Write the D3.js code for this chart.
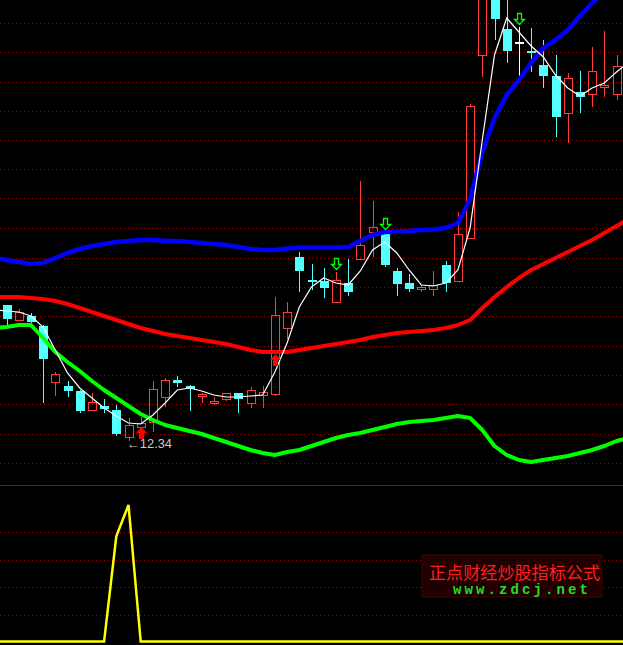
<!DOCTYPE html>
<html><head><meta charset="utf-8">
<script src="https://cdn.jsdelivr.net/npm/d3@7/dist/d3.min.js"></script>
<style>html,body{margin:0;padding:0;background:#000;overflow:hidden}svg{display:block}</style>
</head><body><svg id="c" width="623" height="645"></svg>
<script>
// ---- candle data (bar 0..50) ----
const opens = [15.06,14.76,14.84,14.64,13.52,13.44,13.34,12.96,13.04,12.96,
  12.42,12.62,12.72,13.22,13.56,13.44,13.24,13.10,13.18,13.30,
  13.10,13.26,13.28,14.60,16.02,15.56,15.54,15.12,15.50,15.98,
  16.52,16.50,15.74,15.50,15.38,15.38,15.86,15.54,16.40,20.06,
  21.36,20.58,20.32,20.14,19.86,19.64,18.90,19.32,19.28,19.42,19.28];
const closes = [14.78,14.92,14.72,13.99,13.68,13.34,12.94,13.12,12.98,12.48,
  12.66,12.70,13.38,13.56,13.50,13.38,13.28,13.14,13.30,13.18,
  13.36,13.32,14.86,14.92,15.74,15.55,15.40,15.56,15.32,16.26,
  16.62,15.86,15.48,15.38,15.42,15.46,15.50,16.48,19.04,21.36,
  20.78,20.14,20.32,20.10,19.64,18.82,19.60,19.22,19.74,19.46,19.84];
const highs = [15.06,14.98,14.90,14.66,13.72,13.54,13.36,13.30,13.18,13.06,
  12.80,12.82,13.54,13.60,13.64,13.46,13.30,13.22,13.30,13.30,
  13.42,13.44,15.22,15.12,16.12,15.88,15.80,15.72,15.98,17.54,
  17.14,16.52,15.80,15.68,15.46,15.74,15.94,16.92,19.08,21.56,
  21.56,21.26,20.62,20.60,20.36,20.06,19.70,19.74,20.22,20.54,20.06];
const lows = [14.64,14.75,14.70,13.10,13.24,13.22,12.90,12.94,12.90,12.44,
  12.34,12.62,12.52,13.02,13.42,12.94,13.10,13.06,13.14,12.90,
  13.00,13.00,13.24,14.38,15.32,15.36,15.20,15.10,15.24,15.98,
  16.02,15.82,15.24,15.32,15.32,15.24,15.32,15.54,16.38,19.62,
  20.36,19.90,19.64,19.72,19.40,18.42,18.30,18.90,19.02,19.22,19.16];

// ---- indicator lines (bar -1..51) ----
const lineStart = -1;
const maLine = [14.96,14.94,14.92,14.84,14.62,14.16,13.70,13.40,13.20,13.00,
  12.84,12.70,12.68,12.86,13.10,13.36,13.40,13.34,13.26,13.22,
  13.22,13.24,13.26,13.72,14.30,15.02,15.42,15.60,15.50,15.46,
  15.74,16.16,16.32,16.10,15.76,15.46,15.44,15.50,15.76,16.60,
  18.36,20.06,20.80,20.52,20.24,20.02,19.66,19.40,19.24,19.40,
  19.50,19.72,19.92];
const upperBand = [16.00,15.96,15.92,15.88,15.90,16.00,16.10,16.18,16.24,16.28,
  16.32,16.34,16.36,16.36,16.34,16.34,16.32,16.30,16.28,16.26,
  16.22,16.18,16.16,16.16,16.19,16.21,16.21,16.21,16.21,16.22,
  16.34,16.46,16.52,16.53,16.54,16.56,16.57,16.60,16.70,17.18,
  18.12,18.80,19.26,19.56,19.90,20.20,20.36,20.56,20.84,21.10,
  21.32,21.52,21.72];
const midBand = [15.22,15.22,15.22,15.20,15.18,15.14,15.08,15.00,14.92,14.84,
  14.76,14.68,14.60,14.54,14.48,14.44,14.40,14.36,14.32,14.28,
  14.22,14.16,14.12,14.12,14.12,14.16,14.20,14.24,14.28,14.32,
  14.36,14.42,14.46,14.50,14.52,14.54,14.56,14.60,14.66,14.76,
  15.00,15.22,15.42,15.60,15.76,15.88,16.00,16.12,16.24,16.36,
  16.50,16.64,16.78];
const lowerBand = [14.60,14.62,14.66,14.66,14.40,14.12,13.92,13.74,13.54,13.36,
  13.20,13.04,12.88,12.76,12.66,12.60,12.54,12.48,12.40,12.32,
  12.24,12.16,12.10,12.06,12.12,12.16,12.24,12.32,12.40,12.46,
  12.50,12.56,12.62,12.68,12.72,12.74,12.76,12.80,12.84,12.80,
  12.56,12.24,12.06,11.96,11.92,11.96,12.00,12.04,12.10,12.16,
  12.24,12.34,12.40];
const subLine = [0,0,0,0,0,0,0,0,0,0,67,87,0,0,0,0,0,0,0,0,
  0,0,0,0,0,0,0,0,0,0,0,0,0,0,0,0,0,0,0,0,
  0,0,0,0,0,0,0,0,0,0,0,0,0];

// ---- grid / signals / labels ----
const gridPrices = [20.70,20.12,19.52,18.94,18.36,17.78,17.20,16.60,16.00,15.42,14.84,14.24,13.66,13.08,12.48,11.90];
const subGrid = [17.5,35,52.5,70];
const sellSignals = [27,31,42];
const buySignals = [11,22];
const buyArrowPrices = [12.62,14.08];
const lowLabelIndex = 10;
const lowLabelText = "\u219012.34";
const watermarkTitle = "正点财经炒股指标公式";
const watermarkUrl = "www.zdcj.net";

const W = 623, H = 645, mainBottom = 485, subBase = 642;
const svg = d3.select("#c");
svg.append("rect").attr("width",W).attr("height",H).attr("fill","#000");

const x = d3.scaleLinear().domain([0,50]).range([6.5,616.5]);
const y = d3.scaleLinear().domain([11.46,21.16]).range([mainBottom,0]);
const ys = d3.scaleLinear().domain([0,100]).range([subBase,mainBottom]);
const px = v => Math.round(v);

// grids
const gridColor = "#a00000";
svg.append("g").selectAll("line").data(gridPrices).join("line")
  .attr("x1",0).attr("x2",W)
  .attr("y1",d=>px(y(d))+0.5).attr("y2",d=>px(y(d))+0.5)
  .attr("stroke",gridColor).attr("stroke-width",1).attr("stroke-dasharray","1,3");
svg.append("g").selectAll("line").data(subGrid).join("line")
  .attr("x1",0).attr("x2",W)
  .attr("y1",d=>px(ys(d))+0.5).attr("y2",d=>px(ys(d))+0.5)
  .attr("stroke",gridColor).attr("stroke-width",1).attr("stroke-dasharray","1,3");
svg.append("line").attr("x1",0).attr("x2",W).attr("y1",mainBottom+0.5).attr("y2",mainBottom+0.5)
  .attr("stroke","#b00000").attr("stroke-width",1);

// candles
const RED = "#ff3c3c", CYAN = "#54ffff";
const cg = svg.append("g").attr("shape-rendering","crispEdges");
opens.forEach((o,i)=>{
  const c = closes[i], h = highs[i], l = lows[i];
  const xc = px(x(i)), left = xc-4;
  const yo = px(y(o)), yc = px(y(c)), yh = px(y(h)), yl = px(y(l));
  const top = Math.min(yo,yc), bot = Math.max(yo,yc);
  if (c > o) {
    cg.append("line").attr("x1",xc+0.5).attr("x2",xc+0.5).attr("y1",yh).attr("y2",top).attr("stroke",RED);
    cg.append("line").attr("x1",xc+0.5).attr("x2",xc+0.5).attr("y1",bot).attr("y2",yl).attr("stroke",RED);
    cg.append("rect").attr("x",left+0.5).attr("y",top+0.5).attr("width",8).attr("height",Math.max(1,bot-top))
      .attr("fill","none").attr("stroke",RED);
  } else if (c < o) {
    cg.append("line").attr("x1",xc+0.5).attr("x2",xc+0.5).attr("y1",yh).attr("y2",yl).attr("stroke",CYAN);
    cg.append("rect").attr("x",left).attr("y",top).attr("width",9).attr("height",Math.max(2,bot-top))
      .attr("fill",CYAN);
  } else {
    cg.append("line").attr("x1",xc+0.5).attr("x2",xc+0.5).attr("y1",yh).attr("y2",yl).attr("stroke","#fff");
    cg.append("line").attr("x1",left).attr("x2",left+9).attr("y1",yo+0.5).attr("y2",yo+0.5).attr("stroke","#fff").attr("stroke-width",2);
  }
});

// band lines
const lineGen = d3.line().x((d,k)=>x(k+lineStart)).y(d=>y(d));
[[upperBand,"#0000ff",4.5],[midBand,"#ff0000",4],[lowerBand,"#00ff00",4]].forEach(([data,col,w])=>{
  svg.append("path").attr("d",lineGen(data)).attr("fill","none").attr("stroke",col)
    .attr("stroke-width",w).attr("stroke-linejoin","round");
});
svg.append("path").attr("d",lineGen(maLine)).attr("fill","none").attr("stroke","#ffffff").attr("stroke-width",1.2);

// sell signals (green hollow down arrows)
sellSignals.forEach(i=>{
  const xc = px(x(i))+0.5, tip = px(y(highs[i]))-3+0.5;
  svg.append("path")
    .attr("d",`M${xc},${tip} L${xc-5},${tip-5} L${xc-2},${tip-5} L${xc-2},${tip-11} L${xc+2},${tip-11} L${xc+2},${tip-5} L${xc+5},${tip-5} Z`)
    .attr("fill","#000").attr("stroke","#00ff00").attr("stroke-width",1.3);
});
// buy signals (red filled up arrows)
buySignals.forEach((i,k)=>{
  const xc = px(x(i))+0.5, tip = px(y(buyArrowPrices[k]));
  svg.append("path")
    .attr("d",`M${xc},${tip} L${xc+5.5},${tip+6} L${xc+2.5},${tip+6} L${xc+2.5},${tip+12} L${xc-2.5},${tip+12} L${xc-2.5},${tip+6} L${xc-5.5},${tip+6} Z`)
    .attr("fill","#ff0000");
});

// low label
svg.append("text").attr("x",px(x(lowLabelIndex))-2).attr("y",px(y(lows[lowLabelIndex]))+7)
  .attr("fill","#c8c8c8").attr("font-family","'Liberation Sans', Arial, sans-serif").attr("font-size",12)
  .attr("textLength",45).attr("lengthAdjust","spacingAndGlyphs").text(lowLabelText);

// sub indicator
const subGen = d3.line().x((d,k)=>x(k+lineStart)).y(d=>ys(d)-0.5);
svg.append("path").attr("d",subGen(subLine)).attr("fill","none").attr("stroke","#ffff00")
  .attr("stroke-width",2.5).attr("stroke-linejoin","miter");

// watermark
const wm = svg.append("g");
wm.append("rect").attr("x",422).attr("y",555).attr("width",180).attr("height",42)
  .attr("fill","#200000").attr("stroke","#3a0808");
wm.append("text").attr("x",429).attr("y",578.5).attr("fill","#ff1e1e")
  .attr("font-family","'Noto Sans CJK SC', sans-serif").attr("font-size",17)
  .attr("textLength",171).attr("lengthAdjust","spacingAndGlyphs").text(watermarkTitle);
wm.append("text").attr("x",453).attr("y",594).attr("fill","#22dd22")
  .attr("font-family","'Liberation Mono', monospace").attr("font-weight","bold").attr("font-size",14)
  .attr("textLength",135).attr("lengthAdjust","spacing").text(watermarkUrl);
</script></body></html>
